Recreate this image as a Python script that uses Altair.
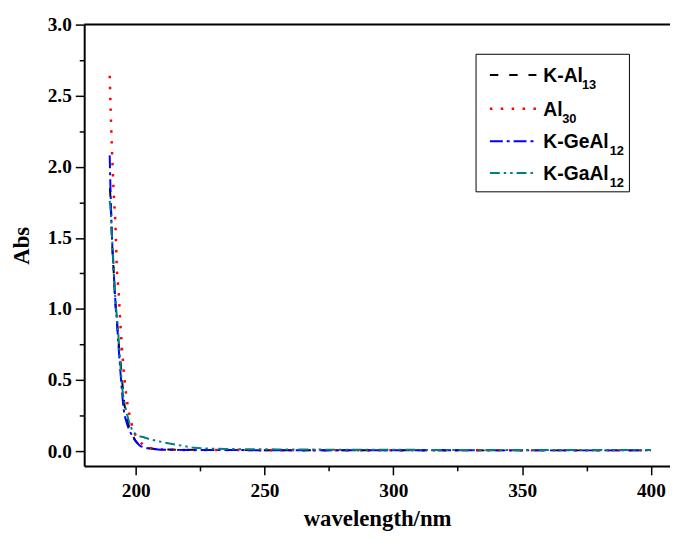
import altair as alt
import pandas as pd

# ---- data ----
wl_kal13 = [190.0, 190.4, 190.8, 191.4, 192.0, 192.7, 193.5, 194.4, 195.4, 196.5, 197.6, 198.6, 200.0, 202.0, 205.0, 210, 220, 240, 260, 300, 340, 380, 400]
abs_kal13 = [1.85, 1.70, 1.48, 1.28, 1.06, 0.92, 0.74, 0.57, 0.36, 0.24, 0.16, 0.12, 0.07, 0.04, 0.02, 0.013, 0.009, 0.007, 0.006, 0.006, 0.005, 0.005, 0.005]

wl_al30 = [189.9, 190.7, 191.4, 192.1, 192.7, 193.35, 194.1, 195.0, 195.8, 196.9, 197.8, 198.8, 200.8, 204.2, 210, 220, 240, 260, 300, 340, 380, 400]
abs_al30 = [2.64, 2.16, 1.84, 1.60, 1.28, 1.125, 0.88, 0.64, 0.48, 0.32, 0.24, 0.16, 0.09, 0.03, 0.012, 0.008, 0.007, 0.006, 0.006, 0.005, 0.005, 0.005]

wl_kgeal12 = [189.9, 190.1, 190.4, 190.8, 191.4, 192.1, 192.6, 193.4, 194.1, 195.3, 196.5, 197.7, 198.9, 200.0, 201.5, 203.5, 205.5, 210, 220, 240, 260, 300, 340, 380, 400]
abs_kgeal12 = [2.08, 1.92, 1.72, 1.50, 1.28, 1.06, 0.94, 0.72, 0.55, 0.30, 0.20, 0.14, 0.10, 0.07, 0.04, 0.025, 0.018, 0.010, 0.008, 0.007, 0.006, 0.006, 0.005, 0.005, 0.005]

wl_kgaal12 = [189.9, 190.4, 190.8, 191.4, 192.0, 193.1, 194.0, 195.0, 196.0, 197.2, 198.9, 200.5, 203.6, 209.9, 216.4, 222.8, 235, 255, 300, 340, 380, 400]
abs_kgaal12 = [1.76, 1.65, 1.50, 1.31, 1.10, 0.86, 0.62, 0.41, 0.31, 0.22, 0.14, 0.115, 0.094, 0.065, 0.043, 0.024, 0.015, 0.012, 0.009, 0.008, 0.008, 0.008]

series_names = ["K-Al13", "Al30", "K-GeAl12", "K-GaAl12"]
legend_main = ["K-Al", "Al", "K-GeAl", "K-GaAl"]
legend_sub = ["13", "30", "12", "12"]

x_ticks = [200, 225, 250, 275, 300, 325, 350, 375, 400]
y_ticks = [0.0, 0.25, 0.5, 0.75, 1.0, 1.25, 1.5, 1.75, 2.0, 2.25, 2.5, 2.75, 3.0]

# ---- styling ----
W, H = 592, 446
colors = ["#000000", "#ff0000", "#0000ff", "#008080"]
dashes = [[8.5, 11], [2.5, 8.5], [13, 4, 3, 4], [10, 4, 2.5, 4, 2.5, 4]]
widths = [2, 2.5, 2, 2]
series_data = [(wl_kal13, abs_kal13), (wl_al30, abs_al30), (wl_kgeal12, abs_kgeal12), (wl_kgaal12, abs_kgaal12)]

xscale = alt.Scale(domain=[180, 407.4], nice=False, zero=False)
yscale = alt.Scale(domain=[-0.1044, 3.0], nice=False, zero=False)

serif = "Liberation Serif"
sans = "Liberation Sans"

xaxis = alt.Axis(
    values=x_ticks, title="wavelength/nm",
    labelExpr="datum.value % 50 == 0 ? datum.label : ''",
    tickSize={"condition": {"test": "datum.value % 50 != 0", "value": 5}, "value": 9},
    tickWidth=1.5, tickColor="black", domainColor="black", domainWidth=2,
    labelFont=serif, labelFontWeight="bold", labelFontSize=19.5, labelColor="black",
    labelPadding=7, labelOverlap=False, labelFlush=False,
    titleFont=serif, titleFontWeight="bold", titleFontSize=23, titleColor="black",
    titlePadding=8, grid=False,
)
yaxis = alt.Axis(
    values=y_ticks, title="Abs",
    labelExpr="datum.value % 0.5 == 0 ? format(datum.value, '.1f') : ''",
    tickSize={"condition": {"test": "datum.value % 0.5 != 0", "value": 5}, "value": 9},
    tickWidth=1.5, tickColor="black", domainColor="black", domainWidth=2,
    labelFont=serif, labelFontWeight="bold", labelFontSize=19.5, labelColor="black",
    labelPadding=4, labelOverlap=False, labelFlush=False,
    titleFont=serif, titleFontWeight="bold", titleFontSize=23, titleColor="black",
    titlePadding=14, grid=False,
)

layers = []
for i, (wl, ab) in enumerate(series_data):
    df = pd.DataFrame({"wl": wl, "abs": ab, "series": series_names[i]})
    layers.append(
        alt.Chart(df).mark_line(color=colors[i], strokeDash=dashes[i], strokeWidth=widths[i],
                                interpolate="monotone", clip=True).encode(
            x=alt.X("wl:Q", scale=xscale, axis=xaxis),
            y=alt.Y("abs:Q", scale=yscale, axis=yaxis),
            order="wl:Q",
        )
    )

# top frame line
frame_df = pd.DataFrame({"abs": [3.0]})
layers.append(
    alt.Chart(frame_df).mark_rule(color="black", strokeWidth=2).encode(
        y=alt.Y("abs:Q", scale=yscale, axis=yaxis), x=alt.value(0), x2=alt.value(W)
    )
)

# legend
leg_df = pd.DataFrame({"k": [0]})
layers.append(
    alt.Chart(leg_df).mark_rect(fill="white", stroke="black", strokeWidth=1).encode(
        x=alt.value(396), x2=alt.value(551), y=alt.value(30), y2=alt.value(169)
    )
)
row_y = [51, 85, 118, 150]
sub_x = [503, 483, 531, 531]
for i in range(4):
    layers.append(
        alt.Chart(leg_df).mark_rule(color=colors[i], strokeDash=dashes[i], strokeWidth=widths[i]).encode(
            x=alt.value(410), x2=alt.value(457), y=alt.value(row_y[i])
        )
    )
    layers.append(
        alt.Chart(leg_df).mark_text(text=legend_main[i], font=sans, fontWeight="bold", fontSize=19.5,
                                    align="left", baseline="alphabetic", color="black").encode(
            x=alt.value(464), y=alt.value(row_y[i] + 7)
        )
    )
    layers.append(
        alt.Chart(leg_df).mark_text(text=legend_sub[i], font=sans, fontWeight="bold", fontSize=13,
                                    align="left", baseline="alphabetic", color="black").encode(
            x=alt.value(sub_x[i]), y=alt.value(row_y[i] + 14)
        )
    )

chart = alt.layer(*layers).properties(
    width=W, height=H,
    autosize=alt.AutoSizeParams(type="none"),
    padding={"left": 77, "top": 14, "right": 0, "bottom": 64},
    background="white",
).configure_view(strokeWidth=0)

chart.save("out.html", embed_options={"renderer": "svg", "actions": False})
